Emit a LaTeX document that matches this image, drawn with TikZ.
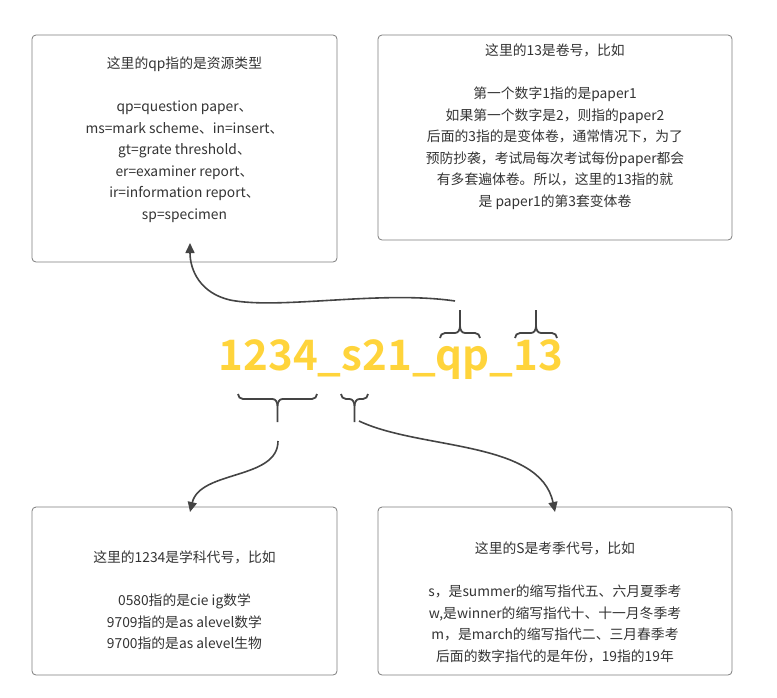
\documentclass[tikz,border=0pt]{standalone}
\usepackage{fontspec}
\setmainfont{Noto Sans CJK SC}
\newfontfamily\boldcjk{Noto Sans CJK SC Bold}
\usetikzlibrary{arrows.meta}
\definecolor{txt}{HTML}{333333}
\definecolor{ln}{HTML}{444444}
\definecolor{yel}{HTML}{FFD43B}
\tikzset{
 box/.style={draw=ln!70,rounded corners=4pt,line width=0.8pt},
 t/.style={text=txt,font=\fontsize{13.8}{21.5}\selectfont,align=center,inner sep=0},
 conn/.style={draw=ln,line width=1.6pt,-{Triangle[length=10pt,width=9pt]}},
 br/.style={draw=ln,line width=1.8pt}
}
% #1 x left, #2 x right, #3 base y, #4 direction (-1 up, +1 down)
\newcommand\mybrace[4]{%
 \pgfmathsetmacro\xm{(#1+#2)/2}%
 \draw[br] (#1,#3) to[out={#4*(-90)},in=180] ({#1+5},{#3+#4*5}) -- ({\xm-5},{#3+#4*5}) to[out=0,in={#4*90}] (\xm,{#3+#4*12}) -- (\xm,{#3+#4*28});
 \draw[br] (#2,#3) to[out={#4*(-90)},in=0] ({#2-5},{#3+#4*5}) -- ({\xm+5},{#3+#4*5}) to[out=180,in={#4*90}] (\xm,{#3+#4*12});
}
\begin{document}
\begin{tikzpicture}[x=1pt,y=-1pt]
\useasboundingbox (0,0) rectangle (777,697);
\draw[box] (32,35) rectangle (337,262);
\draw[box] (378,35) rectangle (732,240);
\draw[box] (32,507) rectangle (337,675);
\draw[box] (378,507) rectangle (732,675);
\node[t,anchor=north] (a) at (184.5,57) {这里的qp指的是资源类型\\[21.5pt]qp=question paper、\\ms=mark scheme、in=insert、\\gt=grate threshold、\\er=examiner report、\\ir=information report、\\sp=specimen};
\node[t,anchor=north] (b) at (555,44) {这里的13是卷号，比如\\[21.5pt]第一个数字1指的是paper1\\如果第一个数字是2，则指的paper2\\后面的3指的是变体卷，通常情况下，为了\\预防抄袭，考试局每次考试每份paper都会\\有多套遍体卷。所以，这里的13指的就\\是 paper1的第3套变体卷};
\node[t,anchor=north] (c) at (184.5,551) {这里的1234是学科代号，比如\\[21.5pt]0580指的是cie ig数学\\9709指的是as alevel数学\\9700指的是as alevel生物};
\node[t,anchor=north] (d) at (555,542) {这里的S是考季代号，比如\\[21.5pt]s，是summer的缩写指代五、六月夏季考\\w,是winner的缩写指代十、十一月冬季考\\m，是march的缩写指代二、三月春季考\\后面的数字指代的是年份，19指的19年};
\node[text=yel,font=\boldcjk\fontsize{42}{42}\selectfont,inner sep=0] (m) at (391,360) {1234\_s21\_qp\_13};
\mybrace{440}{480}{338}{-1}
\mybrace{515}{557}{338}{-1}
\mybrace{238}{317}{394}{1}
\mybrace{341}{368}{394}{1}
\coordinate (s1) at (455,301);
\coordinate (e1) at (190,243);
\coordinate (s2) at (278,441);
\coordinate (e2) at (190,512);
\coordinate (s3) at (359,421);
\coordinate (e3) at (555,512);
\draw[conn] (s1) .. controls (380,290) and (280,310) .. (230,300) .. controls (200,293) and (190,270) .. (e1);
\draw[conn] (s2) .. controls (278,480) and (200,470) .. (e2);
\draw[conn] (s3) .. controls (420,450) and (540,440) .. (e3);
\end{tikzpicture}
\end{document}
